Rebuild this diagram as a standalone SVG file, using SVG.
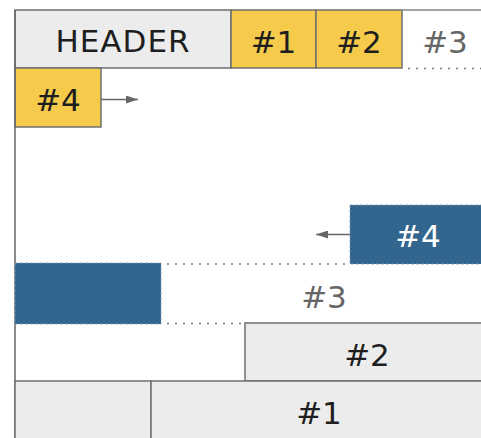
<svg xmlns="http://www.w3.org/2000/svg" width="481" height="438" viewBox="0 0 481 438">
  <defs>
    <style>
      .cell { stroke: #6f6f6f; stroke-width: 1.5; }
      .grey { fill: #ececec; }
      .yellow { fill: #f6cb4b; }
      .blue { fill: #32668f; stroke: #7c9bb6; stroke-width: 0.8; stroke-dasharray: 3 2; }
      .ghost { fill: none; stroke: #777; stroke-width: 1.5; stroke-dasharray: 2 6; }
      .edge { stroke: #666; stroke-width: 1.5; fill: none; }
      text { font-family: "DejaVu Sans", "Liberation Sans", sans-serif; font-size: 31px; text-anchor: middle; fill: #1e1e1e; }
      .dim { fill: #666; }
      .light { fill: #ffffff; }
    </style>
    <marker id="arrow" viewBox="0 0 12 8" refX="12" refY="4" markerWidth="12" markerHeight="8" markerUnits="userSpaceOnUse" orient="auto">
      <path d="M0,0 L12,4 L0,8 z" fill="#666"/>
    </marker>
  </defs>

  <rect width="481" height="438" fill="#ffffff"/>

  <!-- header row -->
  <g id="header">
    <rect class="cell grey" x="15" y="10" width="216" height="58"/>
    <text x="123" y="52" letter-spacing="1">HEADER</text>
  </g>
  <g id="top-1">
    <rect class="cell yellow" x="231" y="10" width="85" height="58"/>
    <text x="273.5" y="53">#1</text>
  </g>
  <g id="top-2">
    <rect class="cell yellow" x="316" y="10" width="86" height="58"/>
    <text x="359" y="53">#2</text>
  </g>
  <g id="top-3">
    <line x1="402" y1="10" x2="481" y2="10" stroke="#888" stroke-width="1.5"/>
    <line x1="402" y1="10" x2="402" y2="68" stroke="#888" stroke-width="1" stroke-dasharray="2 2"/>
    <line class="ghost" x1="408" y1="68.5" x2="481" y2="68.5"/>
    <text class="dim" x="445" y="53">#3</text>
  </g>
  <g id="top-4">
    <rect class="cell yellow" x="15" y="68" width="86" height="59"/>
    <text x="58" y="111">#4</text>
  </g>

  <!-- left frame line -->
  <line class="edge" x1="15" y1="10" x2="15" y2="438"/>

  <!-- lower stack -->
  <g id="low-4">
    <rect class="blue" x="350" y="205" width="140" height="59"/>
    <text class="light" x="418" y="247">#4</text>
  </g>
  <g id="low-3">
    <rect class="blue" x="15" y="263" width="146" height="61"/>
    <line class="ghost" x1="167" y1="264" x2="350" y2="264"/>
    <line class="ghost" x1="167" y1="323.5" x2="245" y2="323.5"/>
    <text class="dim" x="324" y="308">#3</text>
  </g>
  <g id="low-2">
    <rect class="cell grey" x="245" y="323" width="244" height="58"/>
    <text x="367" y="366">#2</text>
  </g>
  <g id="low-1">
    <rect class="cell grey" x="15" y="381" width="136" height="60"/>
    <rect class="cell grey" x="151" y="381" width="338" height="60"/>
    <text x="319" y="424">#1</text>
  </g>

  <!-- connectors -->
  <g id="connectors">
    <line class="edge" x1="101" y1="99.5" x2="138" y2="99.5" marker-end="url(#arrow)"/>
    <line class="edge" x1="350" y1="234.5" x2="316" y2="234.5" marker-end="url(#arrow)"/>
  </g>
</svg>
